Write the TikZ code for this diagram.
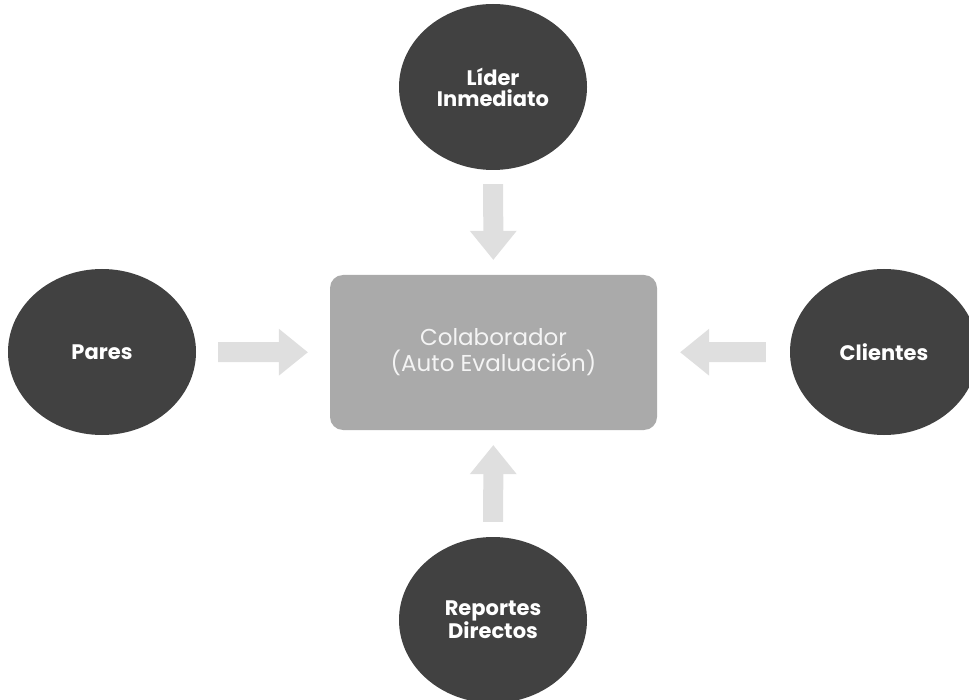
\documentclass[tikz,border=0pt]{standalone}
\usepackage{fontspec}
\setmainfont{Poppins}
\usetikzlibrary{arrows.meta,shapes.geometric}
\definecolor{disc}{HTML}{414141}
\definecolor{core}{HTML}{AAAAAA}
\definecolor{coretext}{HTML}{F4F4F4}
\definecolor{flow}{HTML}{DFDFDF}
\begin{document}
\begin{tikzpicture}[x=1pt,y=-1pt,
  source/.style={ellipse, fill=disc, text=white, minimum width=188pt,
    minimum height=166pt, inner sep=0pt, align=center,
    font=\bfseries\fontsize{21}{21}\selectfont},
  corebox/.style={rectangle, rounded corners=13pt, fill=core, text=coretext,
    minimum width=327pt, minimum height=155pt, align=center,
    font=\fontsize{23}{26}\selectfont},
  flowarrow/.style={draw=flow, line width=20pt,
    -{Triangle[length=29pt,width=47pt,line width=0pt]}}
]
\useasboundingbox (0,0) rectangle (969,700);

% central box
\node[corebox] (core) at (493.5,352.5) {Colaborador\\(Auto Evaluación)};

% the four evaluators
\node[source] (lider) at (493,87) {Líder\\Inmediato};
\node[source] (pares) at (102,352) {Pares};
\node[source] (clientes) at (884,352) {Clientes};
\node[source] (reportes) at (493,620) {Reportes\\Directos};

% block arrows pointing at the box
\draw[flowarrow, shorten <=14pt, shorten >=15pt] (lider) -- (core);
\draw[flowarrow, shorten <=22pt, shorten >=22pt] (pares) -- (core);
\draw[flowarrow, shorten <=24pt, shorten >=23pt] (clientes) -- (core);
\draw[flowarrow, shorten <=15pt, shorten >=15pt] (reportes) -- (core);
\end{tikzpicture}
\end{document}
